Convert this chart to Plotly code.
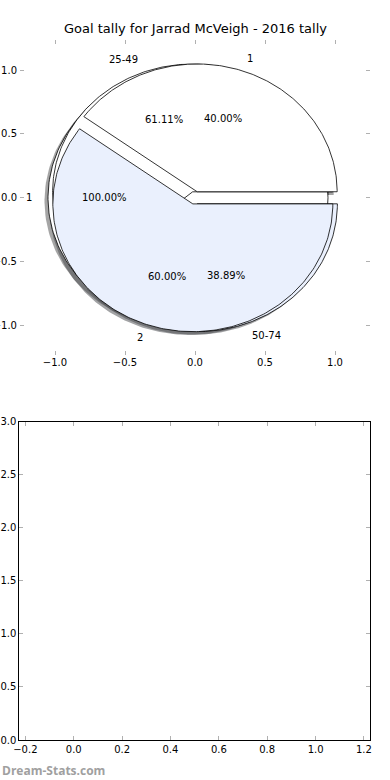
import numpy as np
import plotly.graph_objects as go

TITLE = "Goal tally for Jarrad McVeigh - 2016 tally"
WATERMARK = "Dream-Stats.com"

# three overlaid pies, drawn in this order
pie1_labels = ["1"]
pie1_values = [100.0]
pie2_labels = ["25-49", "50-74"]
pie2_values = [61.11, 38.89]
pie3_labels = ["1", "2"]
pie3_values = [40.0, 60.0]

# explode amounts per slice
pie1_explode = [0.05]
pie2_explode = [0.05, 0.05]
pie3_explode = [0.05, 0.05]

# tick labels
top_x_ticks = [-1.0, -0.5, 0.0, 0.5, 1.0]
top_y_ticks = [-1.0, -0.5, 0.0, 0.5, 1.0]
bot_x_ticks = [-0.2, 0.0, 0.2, 0.4, 0.6, 0.8, 1.0, 1.2]
bot_y_ticks = [0.0, 0.5, 1.0, 1.5, 2.0, 2.5, 3.0]

SLICE_COLORS = ["#ffffff", "#eaf0fd"]
FONT = "DejaVu Sans"
SHADOW_OFF = -0.025


def fmt(v):
    s = f"{v:.1f}"
    return s.replace("-", "\u2212")


def pie_geometry(values, explode):
    total = float(sum(values))
    th1 = 0.0
    res = []
    for i, v in enumerate(values):
        th2 = th1 + 360.0 * v / total
        tm = np.deg2rad((th1 + th2) / 2.0)
        cx = explode[i] * np.cos(tm)
        cy = explode[i] * np.sin(tm)
        t = np.deg2rad(np.linspace(th1, th2, 240))
        if th2 - th1 >= 359.999:
            xs = cx + np.cos(t)
            ys = cy + np.sin(t)
        else:
            xs = np.concatenate([[cx], cx + np.cos(t), [cx]])
            ys = np.concatenate([[cy], cy + np.sin(t), [cy]])
        res.append(dict(xs=xs, ys=ys, cx=cx, cy=cy, tm=tm, pct=100.0 * v / total))
        th1 = th2
    return res


pies = [
    (pie1_labels, pie1_values, pie1_explode),
    (pie2_labels, pie2_values, pie2_explode),
    (pie3_labels, pie3_values, pie3_explode),
]

fig = go.Figure()
geoms = [pie_geometry(v, e) for (_, v, e) in pies]

# shadows first (below all wedges)
for g in geoms:
    for i, w in enumerate(g):
        c = SLICE_COLORS[i % len(SLICE_COLORS)]
        r = int(int(c[1:3], 16) * 0.3)
        gg = int(int(c[3:5], 16) * 0.3)
        b = int(int(c[5:7], 16) * 0.3)
        fig.add_trace(go.Scatter(
            x=w["xs"] + SHADOW_OFF, y=w["ys"] + SHADOW_OFF, mode="lines",
            fill="toself", fillcolor=f"rgba({r},{gg},{b},0.5)",
            line=dict(width=0), hoverinfo="skip", showlegend=False))

annotations = []
for (labels, values, explode), g in zip(pies, geoms):
    for i, w in enumerate(g):
        c = SLICE_COLORS[i % len(SLICE_COLORS)]
        fig.add_trace(go.Scatter(
            x=w["xs"], y=w["ys"], mode="lines", fill="toself", fillcolor=c,
            line=dict(color="black", width=0.8), hoverinfo="skip", showlegend=False))
        xt = w["cx"] + 1.1 * np.cos(w["tm"])
        yt = w["cy"] + 1.1 * np.sin(w["tm"])
        annotations.append(dict(
            x=xt, y=yt, xref="x", yref="y", text=labels[i], showarrow=False,
            xanchor="left" if xt > 0 else "right", yanchor="middle",
            font=dict(family=FONT, size=10, color="black")))
        xp = w["cx"] + 0.6 * np.cos(w["tm"])
        yp = w["cy"] + 0.6 * np.sin(w["tm"])
        annotations.append(dict(
            x=xp, y=yp, xref="x", yref="y", text=f"{w['pct']:.2f}%", showarrow=False,
            xanchor="center", yanchor="middle",
            font=dict(family=FONT, size=10, color="black")))

# empty second axes
fig.add_trace(go.Scatter(x=[], y=[], xaxis="x2", yaxis="y2", showlegend=False))

annotations.append(dict(
    x=0.5, y=1 - 29 / 780, xref="paper", yref="paper", text=TITLE, showarrow=False,
    xanchor="center", yanchor="middle", font=dict(family=FONT, size=13, color="black")))
annotations.append(dict(
    x=0.0, y=10 / 780, xref="paper", yref="paper", text=f"<b>{WATERMARK}</b>",
    showarrow=False, xanchor="left", yanchor="middle",
    font=dict(family="Open Sans", size=12, color="#a0a0a0")))

W, H = 390, 780
tick_common = dict(ticks="inside", ticklen=4, tickcolor="#b0b0b0", tickwidth=1,
                   showgrid=False, zeroline=False, automargin=False,
                   tickfont=dict(family=FONT, size=10, color="black"))

fig.update_layout(
    width=W, height=H, margin=dict(l=0, r=0, t=0, b=0, pad=0, autoexpand=False),
    paper_bgcolor="white", plot_bgcolor="white", showlegend=False,
    annotations=annotations,
    xaxis=dict(domain=[20 / W, 370 / W], range=[-1.25, 1.25], anchor="y",
               tickvals=top_x_ticks, ticktext=[fmt(v) for v in top_x_ticks],
               showline=False, mirror="ticks", **tick_common),
    yaxis=dict(domain=[1 - 355 / H, 1 - 40 / H], range=[-1.23, 1.235], anchor="x",
               tickvals=top_y_ticks, ticktext=[fmt(v) for v in top_y_ticks],
               showline=False, mirror="ticks", ticklabelstandoff=2, **tick_common),
    xaxis2=dict(domain=[19.3 / W, 370 / W], range=[-0.225, 1.225], anchor="y2",
                tickvals=bot_x_ticks, ticktext=[fmt(v) for v in bot_x_ticks],
                showline=True, linecolor="black", linewidth=1, mirror="ticks",
                **tick_common),
    yaxis2=dict(domain=[1 - 740 / H, 1 - 421.7 / H], range=[0, 3], anchor="x2",
                tickvals=bot_y_ticks, ticktext=[fmt(v) for v in bot_y_ticks],
                showline=True, linecolor="black", linewidth=1, mirror="ticks",
                **tick_common),
)

fig.write_html(
    "out.html",
    config={"displayModeBar": False},
    post_script="document.body.style.margin='0';document.body.style.overflow='hidden';",
)
